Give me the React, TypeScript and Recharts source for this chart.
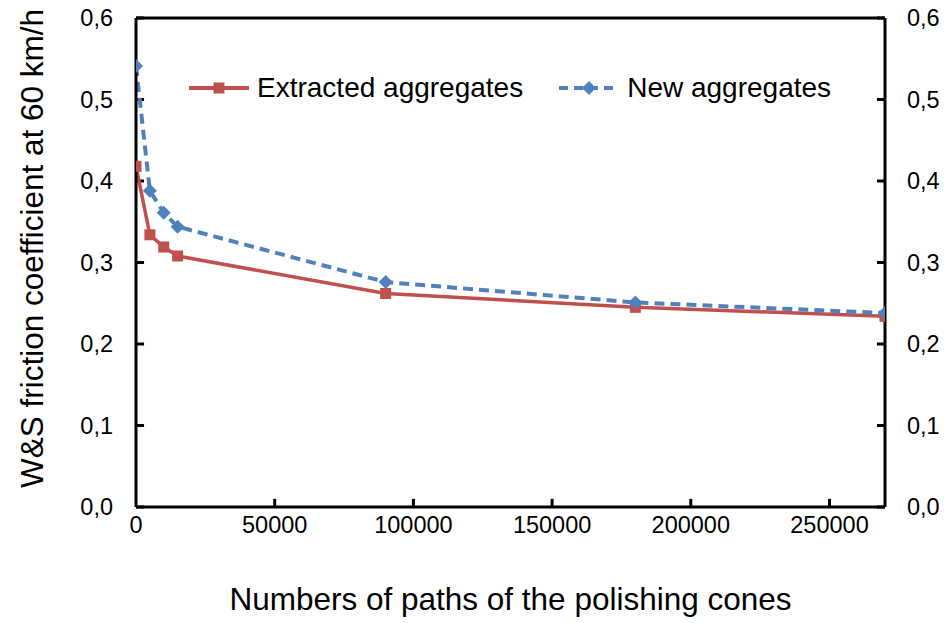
import { LineChart, Line, XAxis, YAxis, Legend, ReferenceLine } from "recharts";

const paths = [0, 5000, 10000, 15000, 90000, 180000, 270000];
const extracted = [0.418, 0.334, 0.319, 0.308, 0.262, 0.245, 0.234];
const fresh = [0.541, 0.388, 0.361, 0.344, 0.276, 0.251, 0.238];
const xTicks = [0, 50000, 100000, 150000, 200000, 250000];
const yTicks = [0, 0.1, 0.2, 0.3, 0.4, 0.5, 0.6];

const X_MAX = 270000;
const Y_MAX = 0.6;
// length of the inner tick marks, in data units (about 8px)
const MARK_DX = 2900;
const MARK_DY = 0.01;

const RED = "#C0504D";
const BLUE = "#4F81BD";
const FONT = "'Liberation Sans', Arial, sans-serif";

const data = paths.map((p, i) => ({ paths: p, extracted: extracted[i], fresh: fresh[i] }));

const fmtY = (v: number) => v.toFixed(1).replace(".", ",");

function SquareDot(props: any) {
  const { cx, cy } = props;
  if (cx == null || cy == null) return null;
  return <rect x={cx - 5.5} y={cy - 5.5} width={11} height={11} fill={RED} />;
}

function DiamondDot(props: any) {
  const { cx, cy } = props;
  if (cx == null || cy == null) return null;
  const r = 7;
  return <path d={`M${cx},${cy - r}L${cx + r},${cy}L${cx},${cy + r}L${cx - r},${cy}Z`} fill={BLUE} />;
}

function LegendContent(props: any) {
  const items = props.payload || [];
  return (
    <div style={{ display: "flex", alignItems: "center", fontFamily: FONT, fontSize: 28, color: "#000" }}>
      {items.map((it: any, i: number) => {
        const isRed = it.dataKey === "extracted";
        return (
          <div key={i} style={{ display: "flex", alignItems: "center", marginRight: 34 }}>
            <svg width={64} height={20} style={{ marginRight: 6 }}>
              <line
                x1={2}
                y1={10}
                x2={62}
                y2={10}
                stroke={isRed ? RED : BLUE}
                strokeWidth={4}
                strokeDasharray={isRed ? undefined : "9 6"}
              />
              {isRed ? (
                <rect x={26.5} y={4.5} width={11} height={11} fill={RED} />
              ) : (
                <path d="M32,3L39,10L32,17L25,10Z" fill={BLUE} />
              )}
            </svg>
            <span>{it.value}</span>
          </div>
        );
      })}
    </div>
  );
}

const tickStyle = { fontSize: 23.5, fill: "#000", fontFamily: FONT };
const axisLine = { stroke: "#000", strokeWidth: 3 };

export default function App() {
  return (
    <div style={{ position: "absolute", left: 0, top: 0, background: "#fff" }}>
      <LineChart width={950} height={623} data={data} margin={{ top: 18, right: 0, bottom: 0, left: 0 }}>
        <XAxis
          dataKey="paths"
          type="number"
          domain={[0, X_MAX]}
          ticks={xTicks}
          allowDataOverflow
          height={116}
          axisLine={axisLine}
          tickLine={false}
          tickSize={0}
          tickMargin={9}
          tick={tickStyle}
          label={{
            value: "Numbers of paths of the polishing cones",
            position: "insideBottom",
            offset: 13,
            style: { fontSize: 31.5, fill: "#000", fontFamily: FONT },
          }}
        />
        <YAxis
          yAxisId="left"
          domain={[0, Y_MAX]}
          ticks={yTicks}
          width={136}
          axisLine={axisLine}
          tickLine={false}
          tickSize={0}
          tickMargin={23}
          tickFormatter={fmtY}
          tick={tickStyle}
          label={{
            value: "W&S friction coefficient at 60 km/h",
            angle: -90,
            position: "insideLeft",
            offset: 32,
            dy: -14,
            style: { fontSize: 31.5, fill: "#000", fontFamily: FONT, textAnchor: "middle" },
          }}
        />
        <YAxis
          yAxisId="right"
          orientation="right"
          domain={[0, Y_MAX]}
          ticks={yTicks}
          width={65}
          axisLine={axisLine}
          tickLine={false}
          tickSize={0}
          tickMargin={22}
          tickFormatter={fmtY}
          tick={tickStyle}
        />
        <ReferenceLine yAxisId="left" y={Y_MAX} stroke="#000" strokeWidth={3} />
        {xTicks
          .filter((t) => t > 0)
          .map((t) => (
            <ReferenceLine
              key={"xm" + t}
              yAxisId="left"
              segment={[
                { x: t, y: 0 },
                { x: t, y: MARK_DY },
              ]}
              stroke="#000"
              strokeWidth={3}
            />
          ))}
        {yTicks.map((t) => (
          <ReferenceLine
            key={"lm" + t}
            yAxisId="left"
            segment={[
              { x: 0, y: t },
              { x: MARK_DX, y: t },
            ]}
            stroke="#000"
            strokeWidth={3}
          />
        ))}
        {yTicks.map((t) => (
          <ReferenceLine
            key={"rm" + t}
            yAxisId="right"
            segment={[
              { x: X_MAX - MARK_DX, y: t },
              { x: X_MAX, y: t },
            ]}
            stroke="#000"
            strokeWidth={3}
          />
        ))}
        <Legend
          layout="horizontal"
          verticalAlign="middle"
          align="center"
          content={<LegendContent />}
          wrapperStyle={{ position: "absolute", top: 72, left: 187, width: 720 }}
        />
        <Line
          yAxisId="right"
          dataKey="extracted"
          name="Extracted aggregates"
          stroke={RED}
          strokeWidth={3.5}
          dot={<SquareDot />}
          isAnimationActive={false}
        />
        <Line
          yAxisId="left"
          dataKey="fresh"
          name="New aggregates"
          stroke={BLUE}
          strokeWidth={4}
          strokeDasharray="10 6"
          dot={<DiamondDot />}
          isAnimationActive={false}
        />
      </LineChart>
    </div>
  );
}
